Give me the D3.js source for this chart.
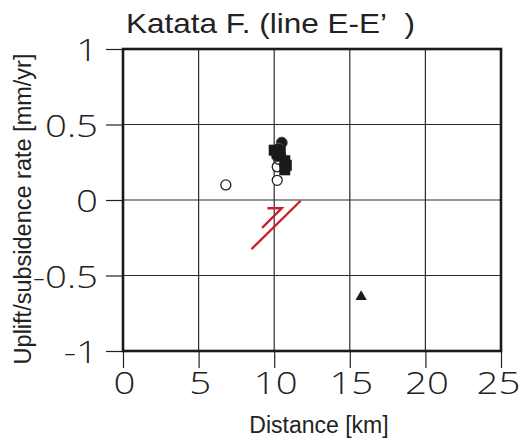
<!DOCTYPE html>
<meta charset="utf-8">
<script src="https://cdn.jsdelivr.net/npm/d3@7"></script>
<style>
  body { margin: 0; background: #fff; }
</style>
<div id="js_chart"></div>
<script>
// ---- data ----
const xTicks = [0, 5, 10, 15, 20, 25];
const yTicks = [-1, -0.5, 0, 0.5, 1];
const yTickLabels = ["-1", "-0.5", "0", "0.5", "1"];

const openCircles = [[6.8, 0.10], [10.2, 0.13], [10.2, 0.22], [10.3, 0.27]];
const filledCircles = [[10.5, 0.38], [10.3, 0.34], [10.4, 0.30], [10.2, 0.29]];
const filledSquares = [[10.0, 0.33], [10.2, 0.31], [10.4, 0.32], [10.7, 0.26], [10.8, 0.23], [10.7, 0.20]];
const triangles = [[15.75, -0.64]];

// fault symbol (red)
const faultLong = [[8.5, -0.325], [11.75, -0.005]];
const faultShort = [[9.55, -0.055], [10.5, -0.055], [9.2, -0.185]];

// ---- layout ----
const W = 524, H = 441;
const x = d3.scaleLinear().domain([0, 25]).range([123, 501]);
const y = d3.scaleLinear().domain([-1, 1]).range([351, 49]);
const sx = 1.2; // tick labels are set in a wide face, stretch a bit

const svg = d3.select("#js_chart").append("svg")
    .attr("width", W).attr("height", H);

// grid
svg.append("g").selectAll("line").data(xTicks.slice(1, -1)).enter().append("line")
    .attr("x1", d => x(d)).attr("x2", d => x(d))
    .attr("y1", y(1)).attr("y2", y(-1))
    .attr("stroke", "#2a2a2a").attr("stroke-width", 1.2);
svg.append("g").selectAll("line").data(yTicks.slice(1, -1)).enter().append("line")
    .attr("x1", x(0)).attr("x2", x(25))
    .attr("y1", d => y(d)).attr("y2", d => y(d))
    .attr("stroke", "#2a2a2a").attr("stroke-width", 1.2);

// axes (outer ticks)
const xAxis = svg.append("g").attr("transform", "translate(0," + y(-1) + ")")
    .call(d3.axisBottom(x).tickValues(xTicks).tickSize(17).tickPadding(10));
const yAxis = svg.append("g").attr("transform", "translate(" + x(0) + ",0)")
    .call(d3.axisLeft(y).tickValues(yTicks).tickSize(17).tickPadding(8)
        .tickFormat((d, i) => yTickLabels[i]));
[xAxis, yAxis].forEach(a => {
    a.select(".domain").remove();
    a.selectAll(".tick line").attr("stroke", "#222").attr("stroke-width", 1.2);
    a.selectAll(".tick text")
        .attr("fill", "#222")
        .attr("transform", "scale(" + sx + ",1)")
        .style("font-family", "'Open Sans', sans-serif")
        .style("font-weight", 300)
        .style("font-size", "32px");
});
xAxis.selectAll(".tick text").attr("dy", "0.71em").attr("y", 20)
    .attr("x", d => d === 25 ? -3 / sx : 1 / sx);
yAxis.selectAll(".tick text").attr("dy", "0.36em").attr("x", -25 / sx);

// frame
svg.append("rect")
    .attr("x", x(0)).attr("y", y(1))
    .attr("width", x(25) - x(0)).attr("height", y(-1) - y(1))
    .attr("fill", "none").attr("stroke", "#1a1a1a").attr("stroke-width", 2.6);

// fault symbol
const line = d3.line().x(d => x(d[0])).y(d => y(d[1]));
svg.append("path").attr("d", line(faultLong))
    .attr("fill", "none").attr("stroke", "#c8202f").attr("stroke-width", 2.4);
svg.append("path").attr("d", line(faultShort))
    .attr("fill", "none").attr("stroke", "#c8202f").attr("stroke-width", 2.4);

// points
const g = svg.append("g");
g.selectAll(".oc").data(openCircles).enter().append("circle")
    .attr("cx", d => x(d[0])).attr("cy", d => y(d[1])).attr("r", 5)
    .attr("fill", "#fff").attr("stroke", "#222").attr("stroke-width", 1.3);
g.selectAll(".fc").data(filledCircles).enter().append("circle")
    .attr("cx", d => x(d[0])).attr("cy", d => y(d[1])).attr("r", 5.5)
    .attr("fill", "#1a1a1a").attr("stroke", "#555").attr("stroke-width", 1);
g.selectAll(".sq").data(filledSquares).enter().append("rect")
    .attr("x", d => x(d[0]) - 5.5).attr("y", d => y(d[1]) - 5.5)
    .attr("width", 11).attr("height", 11)
    .attr("fill", "#1a1a1a");
g.selectAll(".tri").data(triangles).enter().append("path")
    .attr("transform", d => "translate(" + x(d[0]) + "," + y(d[1]) + ")")
    .attr("d", d3.symbol().type(d3.symbolTriangle).size(55))
    .attr("fill", "#1a1a1a");

// titles
svg.append("text")
    .attr("x", 126).attr("y", 33)
    .attr("textLength", 289).attr("lengthAdjust", "spacingAndGlyphs")
    .style("font-family", "'Liberation Sans', Arial, sans-serif")
    .style("font-size", "28px").attr("fill", "#222")
    .text("Katata F. (line E-E\u2019\u00a0\u00a0)");

svg.append("text")
    .attr("x", (x(0) + x(25)) / 2 + 7).attr("y", 433)
    .attr("text-anchor", "middle")
    .style("font-family", "'Liberation Sans', Arial, sans-serif")
    .style("font-size", "23px").attr("fill", "#222")
    .text("Distance [km]");

svg.append("text")
    .attr("transform", "translate(31,209) rotate(-90)")
    .attr("text-anchor", "middle")
    .style("font-family", "'Liberation Sans', Arial, sans-serif")
    .style("font-size", "23.5px").attr("fill", "#222")
    .text("Uplift/subsidence rate [mm/yr]");
</script>
